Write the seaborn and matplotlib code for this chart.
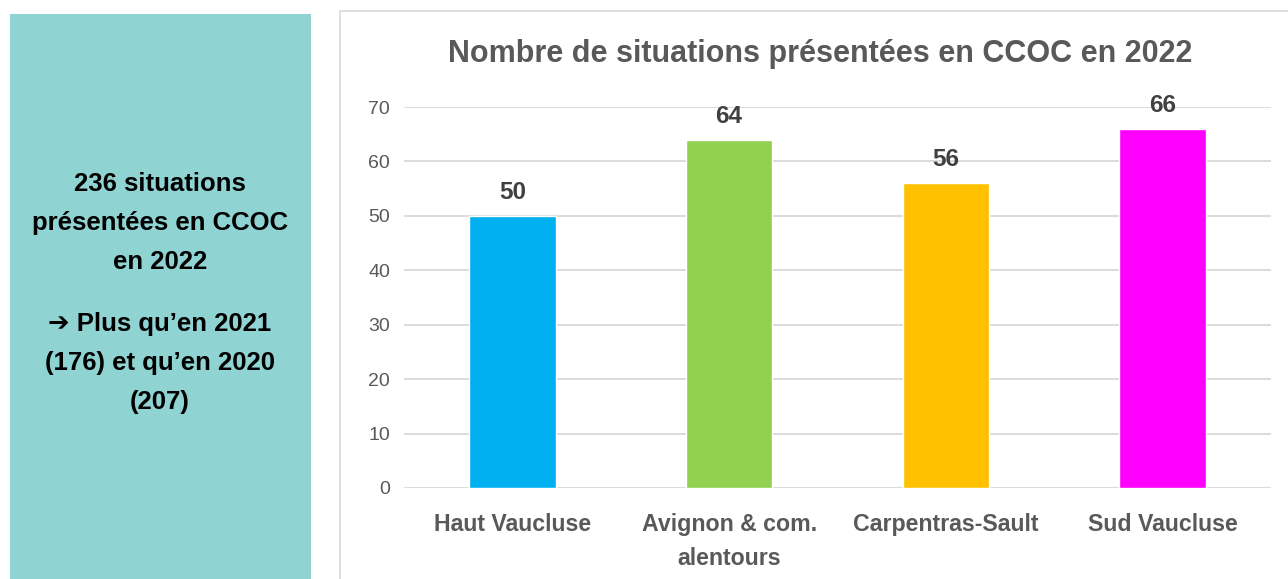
import matplotlib
matplotlib.use('Agg')
import matplotlib.pyplot as plt
from matplotlib.patches import Rectangle
import pandas as pd
import seaborn as sns

regions = ['Haut Vaucluse', 'Avignon & com.\nalentours', 'Carpentras-Sault', 'Sud Vaucluse']
counts = [50, 64, 56, 66]
colors = ['#00B0F0', '#92D050', '#FFC000', '#FF00FF']
y_ticks = [0, 10, 20, 30, 40, 50, 60, 70]
title = 'Nombre de situations présentées en CCOC en 2022'
side_main = '236 situations\nprésentées en CCOC\nen 2022'
side_note = '➔ Plus qu’en 2021\n(176) et qu’en 2020\n(207)'

sns.set_style('white')
fams = ['Liberation Sans', 'DejaVu Sans']
plt.rcParams['font.family'] = fams

W, H = 1288, 579
fig = plt.figure(figsize=(W / 100, H / 100), dpi=100)
fig.patch.set_facecolor('white')

# left teal box
fig.patches.append(Rectangle((10 / W, 0), 301 / W, (H - 14) / H, transform=fig.transFigure,
                             facecolor='#8FD3D3', edgecolor='none'))
# chart frame
fig.patches.append(Rectangle((340 / W, -0.01), (W - 340) / W + 0.01, (H - 11) / H + 0.01,
                             transform=fig.transFigure, facecolor='none',
                             edgecolor='#D9D9D9', linewidth=1.2))

fig.text(160 / W, 1 - 223 / H, side_main, ha='center', va='center', fontsize=18.5,
         fontweight='bold', color='black', linespacing=1.8, family=fams)
fig.text(160 / W, 1 - 363 / H, side_note, ha='center', va='center', fontsize=18.5,
         fontweight='bold', color='black', linespacing=1.8, family=fams)

ax = fig.add_axes([404 / W, (H - 488) / H, 867 / W, 381 / H])
df = pd.DataFrame({'region': regions, 'count': counts})
sns.barplot(data=df, x='region', y='count', hue='region', palette=colors,
            legend=False, width=0.4, saturation=1, ax=ax, zorder=3)

ax.set_xlim(-0.5, 3.5)
ax.set_ylim(0, 70)
ax.set_yticks(y_ticks)
ax.yaxis.grid(True, color='#D9D9D9', linewidth=1.3, zorder=0)
ax.xaxis.grid(False)
for s in ax.spines.values():
    s.set_visible(False)
ax.set_xlabel('')
ax.set_ylabel('')
ax.tick_params(axis='y', length=0, pad=10, labelsize=14, labelcolor='#595959')
ax.tick_params(axis='x', length=0, pad=18)
for lbl in ax.get_xticklabels():
    lbl.set_fontsize(16.7)
    lbl.set_fontweight('bold')
    lbl.set_color('#595959')
    lbl.set_linespacing(1.6)

for i, v in enumerate(counts):
    ax.annotate(str(v), (i, v), xytext=(0, 17), textcoords='offset points',
                ha='center', va='center', fontsize=17.5, fontweight='bold', color='#404040')

fig.text(820 / W, 1 - 54 / H, title, ha='center', va='center', fontsize=22,
         fontweight='bold', color='#595959')

fig.savefig('out.png', dpi=100)
